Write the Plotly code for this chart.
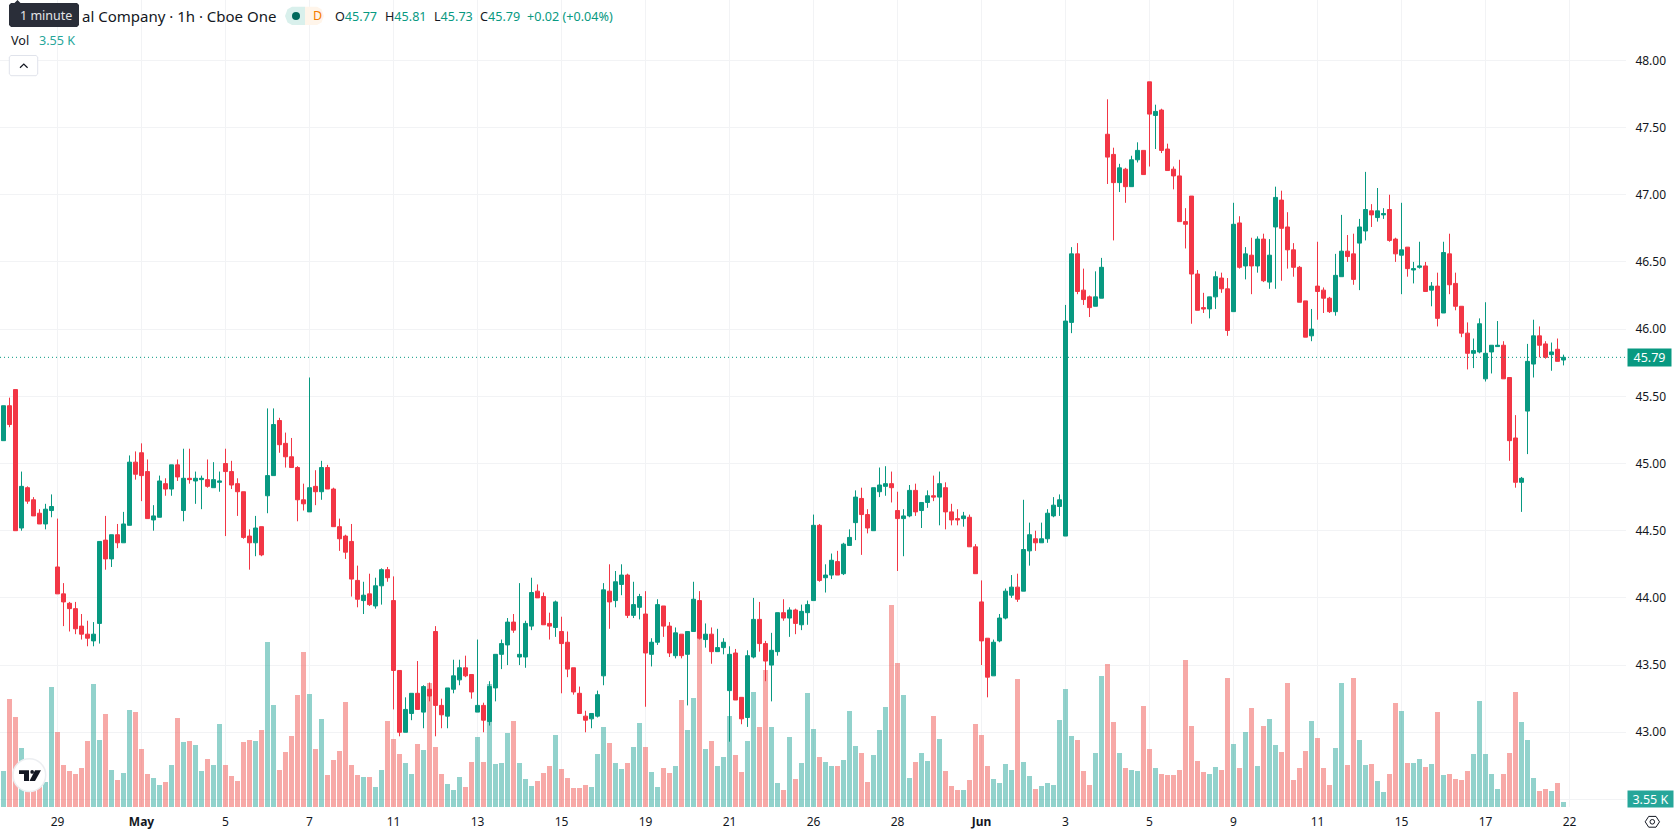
import plotly.graph_objects as go

# Hourly OHLC prices, oldest bar first
open_prices = [
    45.17,45.43,45.55,44.52,44.82,44.73,44.63,44.55,44.65,44.23,
    44.03,43.96,43.92,43.79,43.73,43.68,43.81,44.43,44.29,44.47,
    44.41,44.54,45.01,45.08,44.94,44.58,44.60,44.85,44.81,44.99,
    44.65,44.89,44.87,44.88,44.88,44.82,44.86,45.00,44.94,44.85,
    44.79,44.46,44.41,44.53,44.76,44.91,45.32,45.15,45.05,44.97,
    44.73,44.64,44.83,44.79,44.97,44.81,44.53,44.46,44.42,44.13,
    43.98,44.03,43.94,44.09,44.21,43.98,43.46,43.00,43.14,43.29,
    43.15,43.32,43.75,43.20,43.12,43.32,43.39,43.48,43.43,43.15,
    43.20,43.08,43.33,43.58,43.65,43.82,43.56,43.56,43.79,44.05,
    44.01,43.81,43.78,43.75,43.67,43.48,43.29,43.12,43.10,43.12,
    43.42,44.05,43.98,44.10,44.17,43.87,43.93,43.88,43.58,43.67,
    43.94,43.79,43.57,43.73,43.58,43.75,43.98,43.69,43.73,43.60,
    43.63,43.31,43.59,43.26,43.11,43.56,43.84,43.66,43.50,43.60,
    43.89,43.85,43.91,43.80,43.89,43.98,44.54,44.15,44.17,44.27,
    44.18,44.39,44.56,44.74,44.62,44.50,44.79,44.83,44.85,44.65,
    44.59,44.61,44.80,44.65,44.71,44.76,44.75,44.82,44.64,44.59,
    44.59,44.60,44.38,43.97,43.70,43.42,43.68,43.85,44.02,44.08,
    44.05,44.35,44.44,44.41,44.44,44.61,44.68,44.46,46.05,46.56,
    46.29,46.24,46.17,46.23,47.45,47.30,47.09,47.19,47.06,47.26,
    47.33,47.84,47.59,47.63,47.34,47.19,47.14,46.80,46.99,46.41,
    46.16,46.15,46.24,46.38,46.30,46.13,46.79,46.47,46.55,46.47,
    46.67,46.35,46.76,46.96,46.76,46.59,46.46,46.21,45.95,46.32,
    46.29,46.23,46.13,46.39,46.58,46.56,46.64,46.73,46.88,46.83,
    46.85,46.89,46.67,46.55,46.61,46.44,46.46,46.47,46.29,46.32,
    46.12,46.56,46.34,46.17,45.97,45.82,45.83,45.63,45.83,45.87,
    45.88,45.64,45.19,44.86,45.39,45.74,45.95,45.89,45.81,45.85,
    45.77,
]
high_prices = [
    45.43,45.49,45.55,44.94,44.83,44.75,44.66,44.70,44.77,44.59,
    44.11,43.97,43.97,43.88,43.83,43.82,44.42,44.61,44.47,44.55,
    44.64,45.06,45.09,45.15,45.03,44.69,44.91,44.89,44.99,45.03,
    45.11,45.11,44.94,44.91,45.03,45.01,44.94,45.11,45.02,44.89,
    44.79,44.51,44.61,44.53,45.41,45.41,45.34,45.23,45.19,44.98,
    44.85,45.64,44.95,45.02,44.99,44.82,44.59,44.47,44.55,44.24,
    44.12,44.18,44.15,44.22,44.23,44.16,43.46,43.26,43.29,43.53,
    43.35,43.37,43.79,43.25,43.33,43.54,43.54,43.57,43.43,43.69,
    43.22,43.38,43.58,43.69,43.85,43.88,44.11,43.83,44.15,44.10,
    44.04,43.89,43.98,43.86,43.75,43.48,43.34,43.16,43.14,43.31,
    44.11,44.25,44.20,44.25,44.18,44.12,44.03,44.05,43.70,43.99,
    43.94,43.82,43.78,43.73,43.75,44.12,44.05,43.81,43.78,43.77,
    43.70,43.64,43.62,43.26,43.61,44.00,43.97,43.68,43.74,43.89,
    43.99,43.93,43.92,43.95,43.98,44.62,44.55,44.25,44.33,44.35,
    44.41,44.51,44.80,44.82,44.66,44.82,44.97,44.98,44.94,44.79,
    44.66,44.84,44.85,44.71,44.80,44.91,44.94,44.86,44.70,44.66,
    44.64,44.62,44.40,44.13,43.70,43.69,43.88,44.07,44.17,44.18,
    44.73,44.56,44.50,44.56,44.66,44.75,44.77,46.18,46.61,46.64,
    46.45,46.25,46.43,46.53,47.71,47.35,47.23,47.20,47.29,47.39,
    47.33,47.84,47.67,47.64,47.38,47.21,47.26,46.90,46.99,46.44,
    46.27,46.24,46.43,46.42,46.38,46.94,46.84,46.61,46.68,46.69,
    46.71,46.67,47.06,47.03,46.87,46.64,46.47,46.21,46.15,46.65,
    46.31,46.24,46.56,46.85,46.70,46.71,46.82,47.17,46.93,47.05,
    46.90,47.00,46.68,46.94,46.61,46.50,46.65,46.50,46.35,46.42,
    46.65,46.71,46.42,46.17,46.05,45.93,46.08,46.20,45.88,46.06,
    45.91,45.64,45.36,44.90,45.89,46.07,46.02,45.91,45.90,45.93,
    45.81,
]
low_prices = [
    45.17,45.27,44.50,44.50,44.70,44.61,44.55,44.51,44.60,44.03,
    43.79,43.75,43.73,43.69,43.64,43.64,43.66,44.21,44.23,44.37,
    44.41,44.54,44.88,44.72,44.59,44.50,44.60,44.76,44.76,44.87,
    44.57,44.85,44.70,44.66,44.82,44.82,44.79,44.46,44.81,44.61,
    44.44,44.21,44.31,44.31,44.63,44.91,45.08,44.97,44.97,44.57,
    44.65,44.64,44.69,44.73,44.81,44.53,44.35,44.29,44.01,43.93,
    43.88,43.94,43.92,43.95,44.12,43.17,42.97,43.00,43.09,43.17,
    43.03,43.23,42.97,43.03,43.03,43.29,43.35,43.41,43.25,43.15,
    43.00,43.05,43.23,43.47,43.50,43.74,43.50,43.48,43.76,44.00,
    43.80,43.69,43.71,43.29,43.41,43.28,43.14,43.00,43.03,43.11,
    43.35,43.77,43.93,44.02,43.85,43.85,43.84,43.19,43.49,43.65,
    43.71,43.56,43.55,43.55,43.20,43.75,43.69,43.63,43.51,43.60,
    43.58,42.93,43.24,43.06,43.04,43.55,43.60,43.38,43.23,43.57,
    43.83,43.71,43.73,43.76,43.80,43.98,44.12,44.04,44.14,44.17,
    44.17,44.39,44.43,44.32,44.48,44.50,44.75,44.76,44.71,44.20,
    44.31,44.60,44.61,44.52,44.67,44.72,44.54,44.51,44.54,44.54,
    44.53,44.38,44.18,43.50,43.26,43.42,43.67,43.84,44.00,43.97,
    44.05,44.24,44.35,44.41,44.41,44.60,44.61,44.46,45.97,46.26,
    46.18,46.09,46.17,46.23,47.08,46.66,47.02,46.94,47.06,47.24,
    47.15,47.21,47.34,47.31,47.18,47.04,46.80,46.60,46.04,46.14,
    46.12,46.08,46.15,46.27,45.95,46.13,46.45,46.37,46.26,46.42,
    46.35,46.30,46.30,46.36,46.45,46.39,46.20,45.94,45.91,46.07,
    46.12,46.12,46.10,46.39,46.50,46.33,46.29,46.66,46.76,46.80,
    46.82,46.65,46.50,46.26,46.39,46.34,46.45,46.28,46.17,46.02,
    46.12,46.26,46.14,45.94,45.70,45.71,45.82,45.61,45.67,45.87,
    45.63,45.02,44.82,44.64,45.07,45.64,45.79,45.78,45.69,45.76,
    45.73,
]
close_prices = [
    45.43,45.29,44.50,44.83,44.72,44.61,44.55,44.66,44.68,44.03,
    43.97,43.92,43.77,43.73,43.70,43.73,44.42,44.29,44.47,44.41,
    44.55,45.01,44.92,44.91,44.59,44.61,44.87,44.81,44.99,44.90,
    44.89,44.88,44.89,44.89,44.83,44.88,44.87,44.94,44.84,44.79,
    44.45,44.41,44.52,44.32,44.91,45.29,45.14,45.05,44.97,44.73,
    44.70,44.82,44.79,44.97,44.81,44.53,44.44,44.34,44.14,43.99,
    44.02,43.95,44.09,44.21,44.15,43.46,43.00,43.17,43.29,43.17,
    43.34,43.27,43.20,43.13,43.33,43.42,43.48,43.42,43.30,43.20,
    43.09,43.34,43.58,43.66,43.82,43.76,43.58,43.81,44.04,44.00,
    43.80,43.79,43.97,43.66,43.47,43.30,43.14,43.09,43.14,43.28,
    44.06,43.97,44.12,44.17,43.87,43.95,44.01,43.59,43.67,43.95,
    43.79,43.59,43.74,43.57,43.75,43.99,43.70,43.73,43.60,43.63,
    43.67,43.58,43.24,43.10,43.57,43.84,43.66,43.53,43.61,43.89,
    43.85,43.91,43.81,43.90,43.95,44.54,44.13,44.17,44.28,44.17,
    44.40,44.45,44.75,44.62,44.52,44.82,44.84,44.85,44.82,44.59,
    44.61,44.80,44.64,44.71,44.76,44.75,44.85,44.64,44.58,44.58,
    44.61,44.38,44.18,43.68,43.41,43.67,43.85,44.05,44.08,43.99,
    44.36,44.47,44.41,44.44,44.63,44.69,44.73,46.06,46.56,46.28,
    46.22,46.16,46.24,46.46,47.28,47.09,47.20,47.06,47.26,47.33,
    47.15,47.60,47.62,47.33,47.18,47.14,46.80,46.78,46.41,46.14,
    46.15,46.24,46.39,46.30,45.99,46.78,46.46,46.56,46.47,46.67,
    46.36,46.55,46.98,46.75,46.59,46.46,46.20,45.94,46.00,46.28,
    46.23,46.13,46.40,46.58,46.54,46.37,46.76,46.89,46.85,46.88,
    46.86,46.66,46.56,46.59,46.45,46.45,46.47,46.28,46.32,46.08,
    46.57,46.33,46.17,45.97,45.82,45.84,46.04,45.82,45.88,45.88,
    45.63,45.17,44.86,44.89,45.76,45.95,45.88,45.79,45.83,45.76,
    45.79,
]
# Volume per bar, in thousands
volume_k = [
    25.6,76.7,63.9,41.9,21.5,21.5,19.2,17.8,85.2,53.3,
    29.8,25.6,23.4,27.7,46.9,87.3,47.6,66.0,26.3,19.2,
    24.1,68.9,67.5,41.2,23.4,20.6,15.6,17.8,29.8,63.2,
    46.2,46.9,44.0,25.6,34.1,29.8,58.9,29.8,22.0,18.5,
    46.2,47.6,46.9,54.7,117.2,72.4,26.3,39.1,50.4,79.5,
    110.1,80.2,41.2,62.5,22.7,33.4,39.8,74.6,29.8,22.7,
    21.3,21.3,14.2,26.3,61.1,48.3,37.6,31.2,23.4,44.7,
    40.5,88.1,42.6,23.4,16.3,12.1,21.3,14.2,32.0,49.7,
    32.0,87.3,30.5,31.2,52.5,61.1,31.2,19.9,14.9,18.5,
    24.1,29.1,51.1,27.0,20.6,13.5,13.5,15.6,14.2,37.6,
    56.8,45.4,31.2,27.0,31.2,42.6,59.6,42.6,24.9,14.2,
    27.7,24.1,29.1,76.0,54.7,77.4,120.7,41.2,46.9,29.1,
    35.5,64.6,36.9,24.9,46.9,81.7,56.8,97.3,56.8,17.0,
    12.1,49.7,19.9,31.2,81.0,55.4,35.5,32.0,29.1,29.1,
    33.4,68.2,43.3,38.3,17.8,36.9,54.7,71.0,143.4,102.3,
    79.5,20.6,32.0,38.3,32.7,64.6,48.3,25.6,14.9,12.1,
    12.1,19.2,58.9,51.1,29.1,19.9,17.0,30.5,26.3,90.9,
    32.0,22.0,12.8,14.9,17.0,15.6,61.8,83.8,50.4,47.6,
    25.6,15.6,38.3,93.0,101.5,60.4,38.3,27.7,26.3,25.6,
    71.7,41.2,27.7,23.4,22.7,22.7,26.3,104.4,57.5,32.7,
    24.9,23.4,28.4,26.3,91.6,44.7,27.7,53.3,70.3,29.1,
    57.5,62.5,44.0,39.1,88.1,19.2,27.7,39.8,61.1,49.0,
    27.7,15.6,41.9,88.1,29.8,91.6,47.6,29.8,30.5,18.5,
    10.7,23.4,73.9,68.2,31.2,31.2,34.1,28.4,30.5,67.5,
    22.7,23.4,19.9,19.2,25.6,37.6,75.3,37.6,23.4,12.8,
    23.4,38.3,81.7,60.4,47.6,20.6,11.4,12.8,11.4,17.0,
    3.55,
]

# Time axis labels and the bar they sit on
date_ticks = [9, 23, 37, 51, 65, 79, 93, 107, 121, 135, 149, 163, 177, 191, 205, 219, 233, 247, 261]
date_labels = ["29", "<b>May</b>", "5", "7", "11", "13", "15", "19", "21", "26", "28",
               "<b>Jun</b>", "3", "5", "9", "11", "15", "17", "22"]
price_ticks = [42.5, 43.0, 43.5, 44.0, 44.5, 45.0, 45.5, 46.0, 46.5, 47.0, 47.5, 48.0]
last_close = 45.79

UP = "#089981"
DOWN = "#F23645"
VOL_UP = "rgba(38,166,154,0.5)"
VOL_DOWN = "rgba(239,83,80,0.5)"
GRID = "#f2f3f5"
INK = "#131722"
FONT = "Noto Sans"

W, H = 1678, 835
PLOT_R, PLOT_B = 1626, 807


def px(x):
    return x / PLOT_R


def py(y):
    return 1 - y / PLOT_B


def pane_path(points, close=True):
    body = " L ".join(f"{px(a):.5f},{py(b):.5f}" for a, b in points)
    return "M " + body + (" Z" if close else "")


def label(x, y, text, size=12.6, color=INK, anchor="left", align="left", **kw):
    return dict(xref="paper", yref="paper", x=px(x), y=py(y), text=text, showarrow=False,
                xanchor=anchor, yanchor="middle", align=align,
                font=dict(family=FONT, size=size, color=color), **kw)


bar_index = list(range(len(close_prices)))
fig = go.Figure()

fig.add_trace(go.Bar(
    x=bar_index, y=volume_k, width=5 / 6, yaxis="y",
    marker=dict(color=[VOL_UP if c >= o else VOL_DOWN for o, c in zip(open_prices, close_prices)],
                line=dict(width=0)),
    hoverinfo="skip",
))
fig.add_trace(go.Candlestick(
    x=bar_index, open=open_prices, high=high_prices, low=low_prices, close=close_prices, yaxis="y2",
    increasing=dict(line=dict(color=UP, width=1), fillcolor=UP),
    decreasing=dict(line=dict(color=DOWN, width=1), fillcolor=DOWN),
    whiskerwidth=0, hoverinfo="skip",
))

shapes = [
    # last price line
    dict(type="line", xref="paper", yref="y2", x0=0, x1=1, y0=last_close, y1=last_close,
         line=dict(color=UP, width=1, dash="1px,3px"), layer="above"),
    # interval tooltip
    dict(type="path", xref="paper", yref="paper", fillcolor="#2a2e39", line=dict(width=0),
         path=pane_path([(11, 3), (14.5, 3), (17.5, 0), (20.5, 3), (77, 3), (79, 5), (79, 25), (77, 27),
                         (11, 27), (9, 25), (9, 5)])),
    # market status pill
    dict(type="path", xref="paper", yref="paper", fillcolor="#d9f0ec", line=dict(width=0),
         path=pane_path([(292, 6.7), (305, 6.7), (305, 25), (292, 25), (287.5, 22.5), (285, 16), (287.5, 9.2)])),
    dict(type="path", xref="paper", yref="paper", fillcolor="#fff5ea", line=dict(width=0),
         path=pane_path([(305, 6.7), (317, 6.7), (321.5, 9.2), (324, 16), (321.5, 22.5), (317, 25), (305, 25)])),
    dict(type="circle", xref="paper", yref="paper", fillcolor="#00695c", line=dict(width=0),
         x0=px(292), x1=px(300), y0=py(12), y1=py(20)),
    # collapse button
    dict(type="path", xref="paper", yref="paper", fillcolor="white", line=dict(color="#e0e3eb", width=1),
         path=pane_path([(11, 55.5), (36, 55.5), (37.7, 57), (37.7, 74), (36, 75.7), (11, 75.7), (9.3, 74), (9.3, 57)])),
    dict(type="path", xref="paper", yref="paper", line=dict(color=INK, width=1.2),
         path=pane_path([(20, 67.8), (23.8, 64), (27.6, 67.8)], close=False)),
    # corner logo
    dict(type="circle", xref="paper", yref="paper", fillcolor="white", line=dict(color="#eceef1", width=1.5),
         x0=px(13), x1=px(45.7), y0=py(758.8), y1=py(791.5)),
    dict(type="path", xref="paper", yref="paper", fillcolor="#131722", line=dict(width=0),
         path=pane_path([(19, 770.3), (29, 770.3), (29, 781), (24, 781), (24, 774), (19, 774)])),
    dict(type="circle", xref="paper", yref="paper", fillcolor="#131722", line=dict(width=0),
         x0=px(30.3), x1=px(34), y0=py(770), y1=py(773.8)),
    dict(type="path", xref="paper", yref="paper", fillcolor="#131722", line=dict(width=0),
         path=pane_path([(35, 770.3), (41, 770.3), (35, 781), (29.5, 781)])),
    # settings icon
    dict(type="path", xref="paper", yref="paper", line=dict(color=INK, width=1),
         path=pane_path([(1645.2, 821.8), (1648.7, 816.4), (1656, 816.4), (1659.5, 821.8), (1656, 827.2), (1648.7, 827.2)])),
    dict(type="circle", xref="paper", yref="paper", line=dict(color=INK, width=1),
         x0=px(1650), x1=px(1654.6), y0=py(819.5), y1=py(824.1)),
]

annotations = [
    label(18, 15.5, "1 minute", size=12.5, color="#e4e4e6"),
    label(79.5, 16, "al Company · 1h · Cboe One", size=15),
    label(310.5, 16, "D", size=12.5, color="#f57c00"),
    label(333, 16.5, f'O<span style="color:{UP}">45.77</span>'),
    label(383, 16.5, f'H<span style="color:{UP}">45.81</span>'),
    label(431.5, 16.5, f'L<span style="color:{UP}">45.73</span>'),
    label(478, 16.5, f'C<span style="color:{UP}">45.79</span>'),
    label(525, 16.5, "+0.02 (+0.04%)", color=UP),
    label(9, 40.7, "Vol"),
    label(36.7, 40.7, "3.55 K", color="#26a69a"),
    # price and volume tags on the right edge
    label(1627, 357.5, "45.79", size=12.5, color="white", align="center", bgcolor=UP, width=43, height=17, borderpad=0),
    label(1627, 799, "3.55 K", size=12.5, color="white", align="center", bgcolor="#26a69a", width=45, height=16, borderpad=0),
]

fig.update_layout(
    width=W, height=H, margin=dict(l=0, r=W - PLOT_R, t=0, b=H - PLOT_B, pad=0),
    paper_bgcolor="white", plot_bgcolor="white", showlegend=False,
    font=dict(family=FONT, size=12, color=INK),
    boxgap=1 / 3, boxgroupgap=0, bargap=0, barmode="overlay", hovermode=False, dragmode=False,
    xaxis=dict(type="linear", range=[-0.583, 270.417], rangeslider=dict(visible=False), tickmode="array",
               tickvals=date_ticks, ticktext=date_labels, showgrid=True, gridcolor=GRID, gridwidth=1,
               zeroline=False, showline=False, ticks="outside", ticklen=4, tickcolor="rgba(0,0,0,0)",
               tickfont=dict(family=FONT, size=12, color=INK)),
    yaxis=dict(range=[0, 573.0], domain=[0, 1], visible=False, fixedrange=True),
    yaxis2=dict(range=[42.444, 48.449], overlaying="y", side="right", tickmode="array",
                tickvals=price_ticks, ticktext=["" if v == 42.5 else f"{v:.2f}" for v in price_ticks],
                showgrid=True, gridcolor=GRID, gridwidth=1, zeroline=False, showline=False,
                ticks="outside", ticklen=6, tickcolor="rgba(0,0,0,0)",
                tickfont=dict(family=FONT, size=12, color=INK)),
    shapes=shapes, annotations=annotations,
)

fig.write_html("out.html", config={"displayModeBar": False})
